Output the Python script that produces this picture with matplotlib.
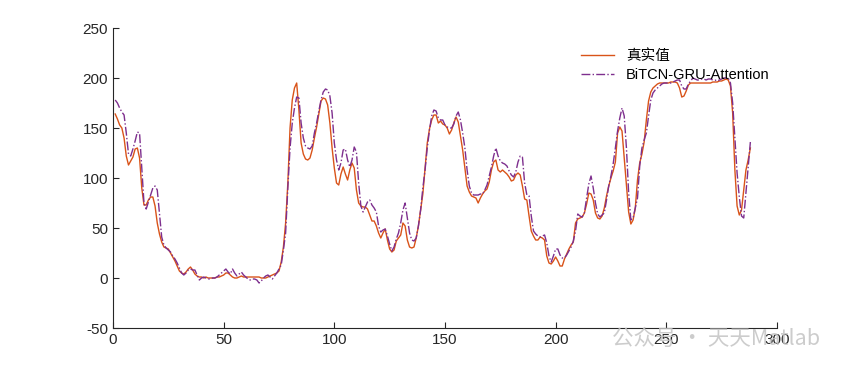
import numpy as np
import matplotlib
matplotlib.use("Agg")
import matplotlib.pyplot as plt

plt.rcParams['font.family'] = ['Liberation Sans', 'Noto Sans CJK SC', 'DejaVu Sans']
plt.rcParams['axes.unicode_minus'] = False

# 真实值 (true values), samples 1..288
true_vals = [
    164, 159, 153, 150, 140, 122, 113, 117, 121, 129,
    130, 120, 90, 73, 73, 78, 81, 81, 72, 55,
    44, 36, 31, 30, 29, 25, 21, 17, 12, 7,
    5, 4, 6, 9, 11, 8, 4, 2, 1, 1,
    0, 1, 0, 0, 0, 0, 1, 1, 2, 3,
    5, 5, 3, 1, 0, 0, 1, 2, 1, 1,
    1, 1, 1, 1, 1, 1, 0, 0, 0, 1,
    2, 3, 4, 5, 7, 16, 31, 55, 95, 150,
    178, 190, 195, 168, 135, 124, 119, 118, 120, 128,
    140, 151, 164, 177, 180, 179, 173, 155, 130, 110,
    95, 93, 104, 111, 104, 98, 108, 115, 110, 88,
    75, 72, 71, 71, 69, 63, 57, 57, 52, 45,
    40, 45, 49, 38, 29, 26, 28, 37, 40, 43,
    55, 52, 38, 31, 30, 31, 40, 52, 68, 84,
    110, 135, 149, 158, 163, 163, 155, 157, 154, 153,
    150, 144, 148, 155, 161, 156, 142, 128, 110, 92,
    86, 82, 81, 80, 75, 80, 84, 87, 89, 96,
    108, 116, 118, 108, 106, 108, 106, 104, 101, 97,
    98, 103, 105, 103, 92, 79, 78, 62, 47, 42,
    38, 38, 41, 40, 38, 22, 15, 14, 17, 21,
    17, 12, 12, 19, 24, 29, 33, 36, 55, 59,
    60, 61, 65, 74, 85, 84, 78, 65, 60, 59,
    62, 70, 82, 92, 100, 107, 116, 145, 151, 147,
    120, 92, 66, 54, 58, 70, 98, 115, 124, 136,
    158, 177, 186, 190, 192, 194, 195, 195, 195, 195,
    195, 196, 196, 196, 195, 190, 181, 182, 187, 193,
    195, 195, 195, 195, 195, 195, 195, 195, 195, 195,
    196, 196, 196, 197, 197, 198, 199, 198, 192, 165,
    108, 72, 63, 68, 88, 108, 118, 130,
]

# BiTCN-GRU-Attention predictions
pred_vals = [
    178, 175, 170, 166, 163, 145, 124, 122, 129, 137,
    146, 145, 110, 75, 69, 76, 83, 90, 92, 88,
    65, 41, 33, 30, 28, 26, 22, 19, 15, 10,
    5, 3, 5, 8, 9, 8, 8, 3, -2, 0,
    1, 0, -1, -1, 0, 0, 1, 3, 5, 7,
    9, 6, 4, 9, 5, 2, 4, 6, 3, 1,
    -1, -2, -1, -1, -2, -5, -3, 0, 2, 3,
    1, -1, 2, 5, 9, 13, 28, 45, 90, 130,
    155, 170, 181, 180, 155, 140, 132, 130, 129, 132,
    145, 155, 167, 178, 186, 189, 188, 182, 165, 135,
    118, 108, 115, 128, 129, 118, 111, 118, 131, 126,
    95, 72, 66, 71, 76, 78, 73, 70, 66, 52,
    46, 48, 49, 42, 34, 27, 31, 39, 45, 55,
    68, 75, 60, 45, 38, 37, 40, 52, 68, 90,
    108, 130, 148, 162, 168, 167, 160, 158, 158, 153,
    151, 150, 150, 154, 162, 166, 158, 145, 130, 108,
    92, 85, 83, 83, 83, 84, 84, 88, 93, 102,
    111, 122, 130, 122, 117, 115, 114, 112, 107, 103,
    101, 106, 116, 122, 121, 95, 83, 82, 62, 47,
    44, 42, 41, 42, 43, 35, 22, 16, 22, 29,
    29, 23, 20, 20, 23, 27, 31, 37, 47, 64,
    62, 61, 65, 80, 94, 102, 90, 75, 64, 61,
    63, 65, 78, 92, 102, 114, 130, 147, 160, 170,
    162, 130, 85, 58, 60, 70, 80, 112, 130, 138,
    145, 162, 178, 185, 188, 190, 192, 194, 195, 195,
    195, 195, 196, 197, 198, 198, 192, 189, 189, 194,
    197, 200, 199, 198, 198, 199, 199, 198, 199, 199,
    198, 198, 197, 198, 199, 200, 200, 200, 195, 175,
    140, 105, 81, 62, 60, 85, 110, 136,
]

x = np.arange(1, len(true_vals) + 1)

fig = plt.figure(figsize=(8.6, 3.7), dpi=100)
ax = fig.add_axes([0.1314, 0.1135, 0.772, 0.8108])

ax.plot(x, true_vals, color='#D95319', lw=1.0, label='真实值')
ax.plot(x, pred_vals, color='#7E2F8E', lw=1.0, ls='-.', label='BiTCN-GRU-Attention')

ax.set_xlim(0, 300)
ax.set_ylim(-50, 250)
ax.set_xticks(range(0, 301, 50))
ax.set_yticks(range(-50, 251, 50))
ax.spines['top'].set_visible(False)
ax.spines['right'].set_visible(False)
for s in ('left', 'bottom'):
    ax.spines[s].set_linewidth(0.8)
    ax.spines[s].set_color('#262626')
ax.tick_params(direction='in', length=4, width=0.8, labelsize=11, colors='#262626')

leg = ax.legend(loc='upper left', bbox_to_anchor=(0.685, 0.975), frameon=False,
                fontsize=10.5, handlelength=2.3, labelspacing=0.4)

# watermark (sits over the axis labels, as in the source image)
fig.text(0.712, 0.068, '公众号 · 天天Matlab', fontsize=15.5, color='#c4c4c4',
         alpha=0.85, family=['Noto Sans CJK SC', 'DejaVu Sans'], zorder=0)

fig.savefig('out.png', dpi=100)
